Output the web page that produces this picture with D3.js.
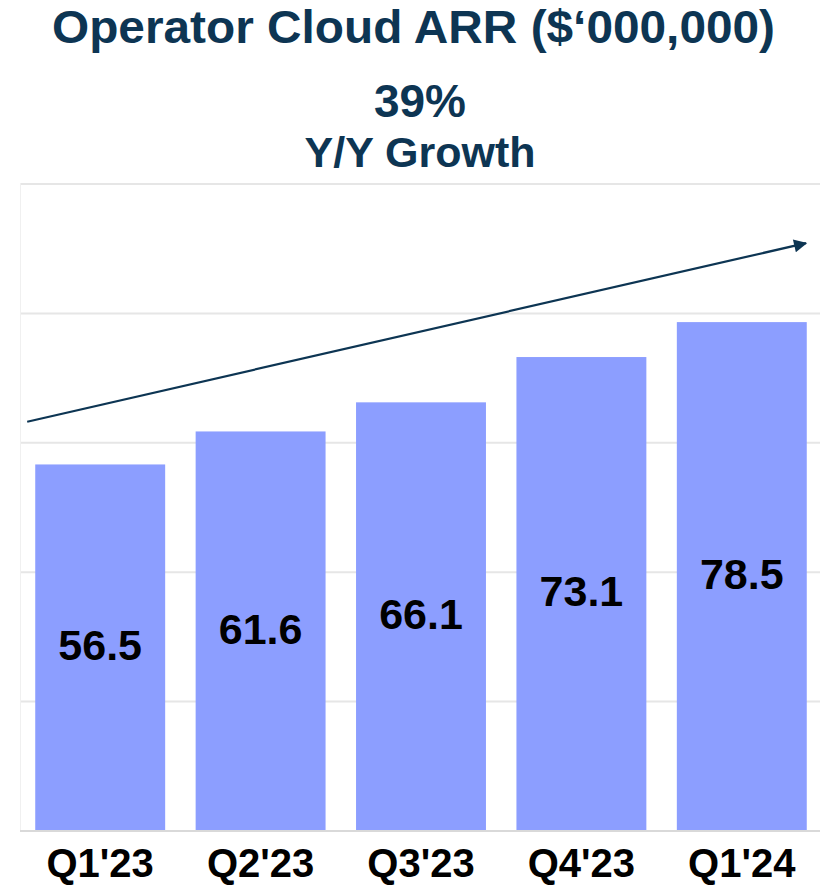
<!DOCTYPE html>
<html>
<head>
<meta charset="utf-8">
<script src="https://cdn.jsdelivr.net/npm/d3@7"></script>
<style>
  body { margin: 0; background: #fff; }
  text { font-family: "Liberation Sans", Arial, sans-serif; font-weight: bold; }
</style>
</head>
<body>
<div id="chart"></div>
<script>
// data
const quarters = ["Q1'23", "Q2'23", "Q3'23", "Q4'23", "Q1'24"];
const arr = [56.5, 61.6, 66.1, 73.1, 78.5];
const gridTicks = [0, 20, 40, 60, 80, 100];
// trend arrow, x as share of plot width, y in ARR units
const trendX = [0.009, 0.98];
const trendY = [63.1, 90.7];

const W = 820, H = 887;
const navy = "#0d3553", barColor = "#8c9eff";

const svg = d3.select("#chart").append("svg")
    .attr("width", W)
    .attr("height", H);

const x = d3.scaleBand()
    .domain(quarters)
    .range([20, 822])
    .paddingInner(0.19)
    .paddingOuter(0.095);

const y = d3.scaleLinear()
    .domain([0, 100])
    .range([830, 183]);

const xt = d3.scaleLinear().domain([0, 1]).range([20, 822]);

// titles
svg.append("text")
    .attr("x", 52)
    .attr("y", 43)
    .attr("textLength", 723)
    .attr("lengthAdjust", "spacingAndGlyphs")
    .attr("fill", navy)
    .style("font-size", "47px")
    .text("Operator Cloud ARR ($\u2018000,000)");

svg.append("text")
    .attr("x", 420)
    .attr("y", 117)
    .attr("text-anchor", "middle")
    .attr("fill", navy)
    .style("font-size", "46px")
    .text("39%");

svg.append("text")
    .attr("x", 420)
    .attr("y", 167)
    .attr("text-anchor", "middle")
    .attr("fill", navy)
    .style("font-size", "43px")
    .text("Y/Y Growth");

// grid
svg.append("g")
    .selectAll("line")
    .data(gridTicks)
    .enter().append("line")
    .attr("x1", 20)
    .attr("x2", W)
    .attr("y1", d => y(d) + 1)
    .attr("y2", d => y(d) + 1)
    .attr("stroke", d => d === 0 ? "#d9d9d9" : "#e6e6e6")
    .attr("stroke-width", 2);

svg.append("line")
    .attr("x1", 20.5).attr("x2", 20.5)
    .attr("y1", y(100)).attr("y2", y(0))
    .attr("stroke", "#f0f0f0");

// bars
svg.selectAll(".bar")
    .data(arr)
    .enter().append("rect")
    .attr("class", "bar")
    .attr("x", (d, i) => x(quarters[i]))
    .attr("y", d => y(d))
    .attr("width", x.bandwidth())
    .attr("height", d => y(0) - y(d))
    .attr("fill", barColor);

svg.selectAll(".val")
    .data(arr)
    .enter().append("text")
    .attr("class", "val")
    .attr("x", (d, i) => x(quarters[i]) + x.bandwidth() / 2)
    .attr("y", d => (y(d) + y(0)) / 2)
    .attr("dy", "0.3em")
    .attr("text-anchor", "middle")
    .attr("fill", "#000")
    .style("font-size", "43px")
    .text(d => d.toFixed(1));

// x labels
svg.selectAll(".xl")
    .data(quarters)
    .enter().append("text")
    .attr("class", "xl")
    .attr("x", d => x(d) + x.bandwidth() / 2)
    .attr("y", 877)
    .attr("text-anchor", "middle")
    .attr("fill", "#000")
    .style("font-size", "40px")
    .text(d => d);

// trend arrow
svg.append("defs").append("marker")
    .attr("id", "head")
    .attr("viewBox", "0 0 10 10")
    .attr("refX", 9)
    .attr("refY", 5)
    .attr("markerWidth", 8)
    .attr("markerHeight", 6)
    .attr("markerUnits", "strokeWidth")
    .attr("orient", "auto")
    .append("path")
    .attr("d", "M0,0L10,5L0,10Z")
    .attr("fill", navy);

svg.append("line")
    .attr("x1", xt(trendX[0]))
    .attr("y1", y(trendY[0]))
    .attr("x2", xt(trendX[1]))
    .attr("y2", y(trendY[1]))
    .attr("stroke", navy)
    .attr("stroke-width", 2.2)
    .attr("marker-end", "url(#head)");
</script>
</body>
</html>
